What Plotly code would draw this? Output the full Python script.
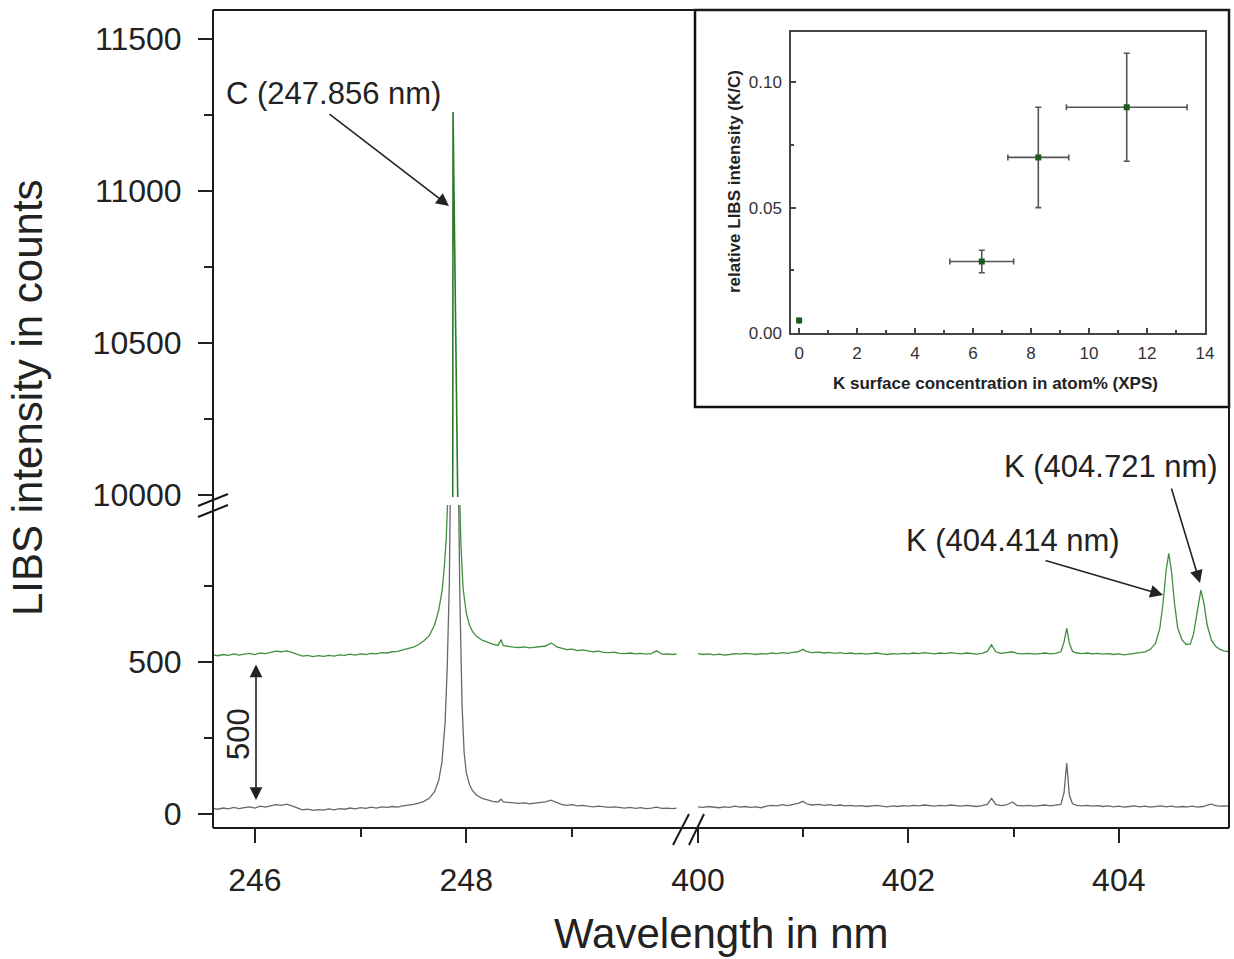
import plotly.graph_objects as go

# ---------------- data ----------------
gray_left_x = [245.60, 245.65, 245.70, 245.75, 245.80, 245.85, 245.90, 245.95, 246.00, 246.05,
               246.10, 246.15, 246.20, 246.25, 246.30, 246.35, 246.40, 246.45, 246.50, 246.55,
               246.60, 246.65, 246.70, 246.75, 246.80, 246.85, 246.90, 246.95, 247.00, 247.05,
               247.10, 247.15, 247.20, 247.25, 247.30, 247.35, 247.40, 247.45, 247.50, 247.55,
               247.60, 247.65, 247.70, 247.74, 247.77, 247.80, 247.82, 247.84, 247.86, 247.89,
               247.92, 247.94, 247.96, 247.98, 248.00, 248.03, 248.06, 248.10, 248.15, 248.20,
               248.25, 248.30, 248.33, 248.35, 248.40, 248.45, 248.50, 248.55, 248.60, 248.65,
               248.70, 248.75, 248.80, 248.83, 248.85, 248.90, 248.95, 249.00, 249.05, 249.10,
               249.15, 249.20, 249.25, 249.30, 249.35, 249.40, 249.45, 249.50, 249.55, 249.60,
               249.65, 249.70, 249.75, 249.80, 249.85, 249.90, 249.95, 249.99]
gray_left_y = [17, 14, 18, 15, 20, 16, 19, 22, 18, 24,
               21, 26, 29, 27, 31, 25, 18, 12, 14, 10,
               13, 11, 15, 12, 16, 14, 18, 15, 19, 17,
               21, 18, 22, 20, 23, 21, 25, 27, 30, 34,
               40, 50, 72, 110, 170, 300, 480, 760, 1300, 2400,
               1250, 700, 360, 200, 135, 95, 75, 60, 50, 44,
               40, 38, 47, 38, 36, 34, 33, 35, 32, 34,
               36, 38, 44, 40, 36, 30, 27, 29, 25, 27,
               24, 22, 24, 21, 20, 22, 19, 18, 20, 17,
               19, 16, 18, 21, 17, 18, 16, 18]

green_left_x = [245.60, 245.65, 245.70, 245.75, 245.80, 245.85, 245.90, 245.95, 246.00, 246.05,
                246.10, 246.15, 246.20, 246.25, 246.30, 246.35, 246.40, 246.45, 246.50, 246.55,
                246.60, 246.65, 246.70, 246.75, 246.80, 246.85, 246.90, 246.95, 247.00, 247.05,
                247.10, 247.15, 247.20, 247.25, 247.30, 247.35, 247.40, 247.45, 247.50, 247.55,
                247.60, 247.65, 247.70, 247.74, 247.77, 247.79, 247.81, 247.83, 247.85, 247.868,
                247.875, 247.882, 247.90, 247.93, 247.95, 247.97, 248.00, 248.03, 248.06, 248.10,
                248.15, 248.20, 248.25, 248.30, 248.33, 248.35, 248.40, 248.45, 248.50, 248.55,
                248.60, 248.65, 248.70, 248.75, 248.80, 248.83, 248.85, 248.90, 248.95, 249.00,
                249.05, 249.10, 249.15, 249.20, 249.25, 249.30, 249.35, 249.40, 249.45, 249.50,
                249.55, 249.60, 249.65, 249.70, 249.75, 249.80, 249.83, 249.85, 249.90, 249.95,
                249.99]
green_left_y = [522, 519, 523, 520, 525, 521, 524, 527, 523, 528,
                526, 530, 534, 532, 535, 530, 524, 518, 520, 516,
                519, 517, 520, 518, 522, 520, 524, 521, 525, 523,
                527, 525, 529, 528, 532, 533, 538, 542, 547, 556,
                568, 585, 620, 670, 730, 800, 900, 1080, 2000, 8000,
                11260, 8000, 2600, 1150, 880, 740, 660, 620, 598, 582,
                570, 563, 557, 553, 572, 552, 549, 547, 546, 548,
                545, 547, 549, 551, 560, 556, 549, 543, 539, 541,
                536, 538, 534, 532, 534, 530, 529, 531, 527, 526,
                528, 525, 527, 524, 526, 535, 529, 524, 525, 523,
                525]

gray_right_x = [400.00, 400.05, 400.10, 400.15, 400.20, 400.25, 400.30, 400.35, 400.40, 400.45,
                400.50, 400.55, 400.60, 400.65, 400.70, 400.75, 400.80, 400.85, 400.90, 400.95,
                401.00, 401.03, 401.08, 401.15, 401.20, 401.25, 401.30, 401.35, 401.40, 401.45,
                401.50, 401.55, 401.60, 401.65, 401.70, 401.75, 401.80, 401.85, 401.90, 401.95,
                402.00, 402.05, 402.10, 402.15, 402.20, 402.25, 402.30, 402.35, 402.40, 402.45,
                402.50, 402.55, 402.60, 402.65, 402.70, 402.75, 402.79, 402.83, 402.88, 402.93,
                402.99, 403.03, 403.08, 403.15, 403.20, 403.25, 403.30, 403.35, 403.40, 403.45,
                403.48, 403.505, 403.53, 403.56, 403.60, 403.65, 403.70, 403.75, 403.80, 403.85,
                403.90, 403.95, 404.00, 404.05, 404.10, 404.15, 404.20, 404.25, 404.30, 404.35,
                404.40, 404.45, 404.50, 404.55, 404.60, 404.65, 404.70, 404.75, 404.80, 404.85,
                404.88, 404.92, 404.96, 405.00, 405.05]
gray_right_y = [22, 20, 23, 21, 19, 22, 20, 24, 21, 23,
                20, 22, 19, 24, 27, 25, 29, 26, 30, 33,
                40, 32, 28, 30, 27, 29, 26, 28, 25, 27,
                24, 26, 23, 25, 27, 24, 22, 25, 23, 26,
                24, 27, 25, 28, 26, 24, 27, 25, 28, 26,
                24, 27, 25, 23, 26, 30, 50, 30, 26, 28,
                38, 27, 25, 27, 24, 26, 28, 25, 27, 30,
                70, 166, 60, 32, 27, 25, 27, 24, 26, 23,
                25, 22, 24, 21, 23, 25, 22, 24, 21, 23,
                25, 22, 24, 21, 23, 22, 24, 21, 23, 28,
                31, 26, 24, 25, 24]

green_right_x = [400.00, 400.05, 400.10, 400.15, 400.20, 400.25, 400.30, 400.35, 400.40, 400.45,
                 400.50, 400.55, 400.60, 400.65, 400.70, 400.75, 400.80, 400.85, 400.90, 400.95,
                 401.00, 401.03, 401.08, 401.15, 401.20, 401.25, 401.30, 401.35, 401.40, 401.45,
                 401.50, 401.55, 401.60, 401.65, 401.70, 401.75, 401.80, 401.85, 401.90, 401.95,
                 402.00, 402.05, 402.10, 402.15, 402.20, 402.25, 402.30, 402.35, 402.40, 402.45,
                 402.50, 402.55, 402.60, 402.65, 402.70, 402.75, 402.79, 402.83, 402.88, 402.93,
                 402.99, 403.03, 403.08, 403.15, 403.20, 403.25, 403.30, 403.35, 403.40, 403.45,
                 403.48, 403.505, 403.53, 403.56, 403.60, 403.65, 403.70, 403.75, 403.80, 403.85,
                 403.90, 403.95, 404.00, 404.05, 404.10, 404.15, 404.20, 404.25, 404.30, 404.35,
                 404.39, 404.42, 404.45, 404.475, 404.50, 404.53, 404.56, 404.60, 404.64, 404.68,
                 404.71, 404.745, 404.78, 404.81, 404.84, 404.88, 404.92, 404.96, 405.00, 405.05]
green_right_y = [526, 523, 525, 522, 524, 521, 523, 526, 524, 527,
                 525, 523, 526, 524, 528, 526, 529, 527, 530, 532,
                 540, 533, 529, 531, 528, 530, 527, 529, 526, 528,
                 525, 527, 524, 526, 528, 525, 523, 526, 524, 527,
                 525, 528, 526, 529, 527, 525, 528, 526, 529, 527,
                 525, 528, 526, 524, 527, 533, 555, 532, 527, 529,
                 532, 527, 525, 527, 524, 526, 528, 525, 527, 532,
                 565, 610, 560, 533, 528, 526, 528, 525, 527, 524,
                 526, 523, 525, 522, 524, 526, 528, 532, 540, 560,
                 610, 690, 800, 856, 800, 690, 610, 572, 556, 558,
                 590, 670, 735, 690, 620, 570, 550, 540, 535, 532]

# inset: K surface concentration (XPS) vs relative LIBS intensity (K/C)
inset_x = [0.0, 6.3, 8.25, 11.3]
inset_y = [0.005, 0.0285, 0.070, 0.090]
inset_xerr = [0.0, 1.1, 1.05, 2.08]
inset_yerr = [0.0, 0.0045, 0.020, 0.0215]

y_major_low = [0, 500]
y_minor_low = [250, 750]
y_major_high = [10000, 10500, 11000, 11500]
y_minor_high = [10250, 10750, 11250]
x_major_left = [246, 248]
x_minor_left = [247, 249]
x_major_right = [400, 402, 404]
x_minor_right = [401, 403]
inset_xticks = [0, 2, 4, 6, 8, 10, 12, 14]
inset_xminor = [1, 3, 5, 7, 9, 11, 13]
inset_yticks = [0.0, 0.05, 0.10]
inset_yminor = [0.025, 0.075]

# ---------------- figure ----------------
W, H = 1234, 959
L, R, T, B = 213, 5, 10, 131
PW, PH = W - L - R, H - T - B


def px(xp):
    return (xp - L) / PW


def py(yp):
    return (T + PH - yp) / PH


GREEN = "#3f8f3f"
GRAY = "#686868"
FONT = "Liberation Sans, Arial, sans-serif"
TXT = "#222222"

fig = go.Figure()
fig.add_trace(go.Scatter(x=gray_left_x, y=gray_left_y, mode="lines",
                         line=dict(color=GRAY, width=1.3), xaxis="x", yaxis="y"))
fig.add_trace(go.Scatter(x=green_left_x, y=green_left_y, mode="lines",
                         line=dict(color=GREEN, width=1.3), xaxis="x", yaxis="y"))
fig.add_trace(go.Scatter(x=green_left_x, y=green_left_y, mode="lines",
                         line=dict(color="#2a7a2a", width=1.6), xaxis="x", yaxis="y2"))
fig.add_trace(go.Scatter(x=gray_right_x, y=gray_right_y, mode="lines",
                         line=dict(color=GRAY, width=1.3), xaxis="x2", yaxis="y"))
fig.add_trace(go.Scatter(x=green_right_x, y=green_right_y, mode="lines",
                         line=dict(color=GREEN, width=1.3), xaxis="x2", yaxis="y"))
fig.add_trace(go.Scatter(x=inset_x, y=inset_y, mode="markers",
                         marker=dict(symbol="square", size=6, color="#1e5a1e"),
                         error_x=dict(type="data", array=inset_xerr, color="#555555", thickness=1.6, width=3),
                         error_y=dict(type="data", array=inset_yerr, color="#555555", thickness=1.6, width=3),
                         xaxis="x3", yaxis="y3"))

tickfont = dict(family=FONT, size=32, color=TXT)
common = dict(showgrid=False, zeroline=False, showline=False, ticks="outside",
              ticklen=14, tickwidth=2, tickcolor="#222", tickfont=tickfont, automargin=False)

xl0, xl1 = 213, 681
xr0, xr1 = 698, 1229
yl0, yl1 = 828, 505
yu0, yu1 = 497, 10

fig.update_layout(
    width=W, height=H, autosize=False,
    margin=dict(l=L, r=R, t=T, b=B, pad=0, autoexpand=False),
    paper_bgcolor="white", plot_bgcolor="white", showlegend=False,
    xaxis=dict(domain=[px(xl0), px(xl1)], range=[245.604, 245.604 + (xl1 - xl0) / 105.7],
               anchor="y", tickvals=x_major_left, ticktext=[str(v) for v in x_major_left],
               ticklabelstandoff=10,
               minor=dict(tickvals=x_minor_left, ticks="outside", ticklen=8, tickwidth=2, tickcolor="#222"),
               **common),
    xaxis2=dict(domain=[px(xr0), px(xr1)], range=[400.0, 400.0 + (xr1 - xr0) / 105.2],
                anchor="y", tickvals=x_major_right, ticktext=[str(v) for v in x_major_right],
                ticklabelstandoff=10,
                minor=dict(tickvals=x_minor_right, ticks="outside", ticklen=8, tickwidth=2, tickcolor="#222"),
                **common),
    yaxis=dict(domain=[py(yl0), py(yl1)],
               range=[-(yl0 - 813.5) / 0.304, (813.5 - yl1) / 0.304],
               anchor="x", tickvals=y_major_low, ticktext=[str(v) for v in y_major_low],
               ticklabelstandoff=10,
               minor=dict(tickvals=y_minor_low, ticks="outside", ticklen=8, tickwidth=2, tickcolor="#222"),
               **common),
    yaxis2=dict(domain=[py(yu0), py(yu1)],
                range=[10000 - (yu0 - 495) / 0.304, 10000 + (495 - yu1) / 0.304],
                anchor="x", tickvals=y_major_high, ticktext=[str(v) for v in y_major_high],
                ticklabelstandoff=10,
                minor=dict(tickvals=y_minor_high, ticks="outside", ticklen=8, tickwidth=2, tickcolor="#222"),
                **common),
    xaxis3=dict(domain=[px(791), px(1205)], range=[-0.28, 14.0], anchor="y3", automargin=False,
                showgrid=False, zeroline=False, showline=True, mirror=True,
                linecolor="#444", linewidth=1.5, ticks="inside", ticklen=5, tickwidth=1.5,
                tickcolor="#444", tickvals=inset_xticks, ticktext=[str(v) for v in inset_xticks],
                ticklabelstandoff=4,
                minor=dict(tickvals=inset_xminor, ticks="inside", ticklen=3,
                           tickwidth=1.5, tickcolor="#444"),
                tickfont=dict(family=FONT, size=17, color="#333")),
    yaxis3=dict(domain=[py(333), py(32)], range=[0, 0.12], anchor="x3", automargin=False,
                showgrid=False, zeroline=False, showline=True, mirror=True,
                linecolor="#444", linewidth=1.5, ticks="inside", ticklen=5, tickwidth=1.5,
                tickcolor="#444", tickvals=inset_yticks, ticktext=["%.2f" % v for v in inset_yticks],
                ticklabelstandoff=4,
                minor=dict(tickvals=inset_yminor, ticks="inside", ticklen=3,
                           tickwidth=1.5, tickcolor="#444"),
                tickfont=dict(family=FONT, size=17, color="#333")),
)

shapes = []
# main frame
for (x0, y0, x1, y1) in [(0, 0, 1, 0), (0, 0, 0, 1), (0, 1, 1, 1), (1, 0, 1, 1)]:
    shapes.append(dict(type="line", xref="paper", yref="paper", x0=x0, y0=y0, x1=x1, y1=y1,
                       line=dict(color="#1a1a1a", width=2)))
# y-axis break marks
for (a, b, c, d) in [(198, 506, 228, 494), (198, 517, 228, 505)]:
    shapes.append(dict(type="line", xref="paper", yref="paper", x0=px(a), y0=py(b), x1=px(c), y1=py(d),
                       line=dict(color="#1a1a1a", width=2)))
# x-axis break marks
for (a, b, c, d) in [(673, 845, 689, 814), (689, 845, 704, 814)]:
    shapes.append(dict(type="line", xref="paper", yref="paper", x0=px(a), y0=py(b), x1=px(c), y1=py(d),
                       line=dict(color="#1a1a1a", width=2)))
# inset box
shapes.append(dict(type="rect", xref="paper", yref="paper", x0=px(695), y0=py(407), x1=1, y1=1,
                   line=dict(color="#111", width=2.5), layer="below"))
fig.update_layout(shapes=shapes)

C = dict(xanchor="center", yanchor="middle", xref="paper", yref="paper")
ann = []
# axis titles
ann.append(dict(text="LIBS intensity in counts", x=px(28), y=py(398),
                showarrow=False, textangle=-90, font=dict(family=FONT, size=42, color=TXT), **C))
ann.append(dict(text="Wavelength in nm", x=px(721), y=py(933),
                showarrow=False, font=dict(family=FONT, size=42, color=TXT), **C))
# line labels
labfont = dict(family=FONT, size=31, color=TXT)
ann.append(dict(text="C (247.856 nm)", x=px(333), y=py(93), showarrow=False, font=labfont, **C))
ann.append(dict(text="K (404.414 nm)", x=px(1013), y=py(540), showarrow=False, font=labfont, **C))
ann.append(dict(text="K (404.721 nm)", x=px(1111), y=py(466), showarrow=False, font=labfont, **C))
# arrows
for (hx, hy, tx, ty) in [(449, 206, 328, 113), (1163, 595, 1044, 560), (1200, 583, 1171, 487)]:
    ann.append(dict(text="", x=px(hx), y=py(hy),
                    ax=tx - hx, ay=ty - hy, showarrow=True, arrowhead=2, arrowsize=1.6,
                    arrowwidth=1.6, arrowcolor="#222", **C))
# offset marker
ann.append(dict(text="", x=px(256), y=py(800), ax=0, ay=663 - 800,
                showarrow=True, arrowhead=2, startarrowhead=2, arrowside="end+start",
                arrowsize=1.6, startarrowsize=1.6, arrowwidth=1.6, arrowcolor="#222", **C))
ann.append(dict(text="500", x=px(238), y=py(734), showarrow=False,
                textangle=-90, font=labfont, **C))
# inset titles
ann.append(dict(text="<b>K surface concentration in atom% (XPS)</b>",
                x=px(995), y=py(383), showarrow=False, font=dict(family=FONT, size=17, color="#222"), **C))
ann.append(dict(text="<b>relative LIBS intensity (K/C)</b>",
                x=px(735), y=py(182), showarrow=False, textangle=-90,
                font=dict(family=FONT, size=17, color="#222"), **C))
fig.update_layout(annotations=ann)

post = ("document.documentElement.style.overflow='hidden';"
        "document.body.style.margin='0';document.body.style.padding='0';"
        "document.body.style.overflow='hidden';"
        "var gd=document.getElementById('{plot_id}');"
        "Plotly.relayout(gd,{width:1234,height:959});")
fig.write_html("out.html", config={"displayModeBar": False, "responsive": False},
               post_script=post)
